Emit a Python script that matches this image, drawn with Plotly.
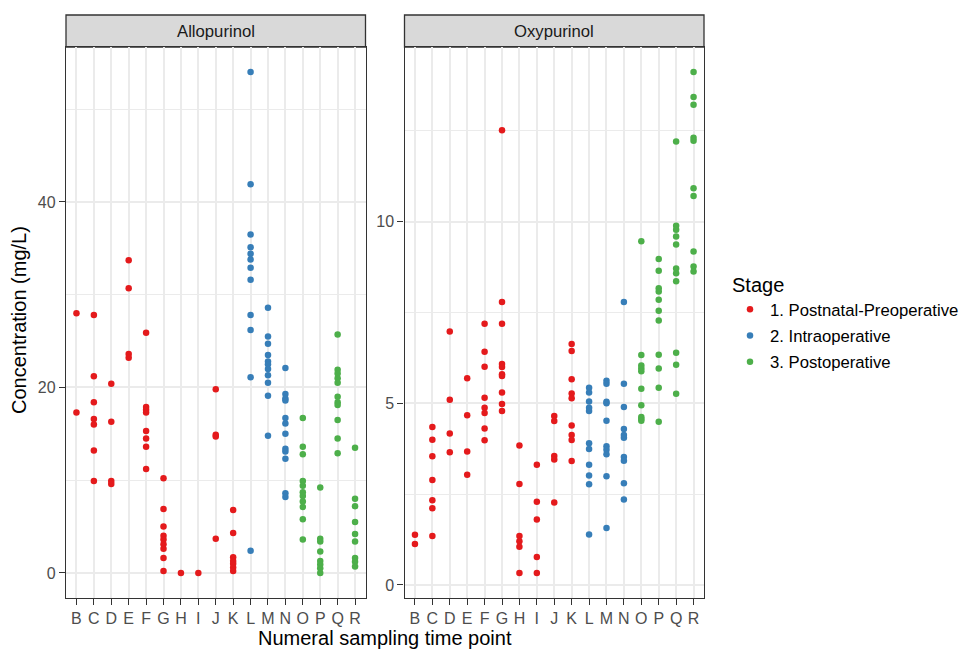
import plotly.graph_objects as go

categories = ["B", "C", "D", "E", "F", "G", "H", "I", "J", "K", "L", "M", "N", "O", "P", "Q", "R"]
stage_of_category = [1, 1, 1, 1, 1, 1, 1, 1, 1, 1, 2, 2, 2, 3, 3, 3, 3]
stage_names = ["1. Postnatal-Preoperative", "2. Intraoperative", "3. Postoperative"]
stage_colors = ["#E41A1C", "#377EB8", "#4DAF4A"]

allopurinol = [
    [28.0, 17.3],
    [27.8, 21.2, 18.4, 16.6, 16.0, 13.2, 9.9],
    [20.4, 16.3, 9.9, 9.6],
    [33.7, 30.7, 23.6, 23.2],
    [25.9, 17.9, 17.6, 17.3, 15.3, 14.5, 13.6, 11.2],
    [10.2, 6.9, 5.0, 4.0, 3.6, 3.1, 2.6, 1.6, 0.2],
    [0.0],
    [0.0],
    [19.8, 14.9, 14.7, 3.7],
    [6.8, 4.3, 1.7, 1.3, 1.0, 0.6, 0.2],
    [54.0, 41.9, 36.5, 35.1, 34.4, 33.8, 32.9, 31.6, 27.8, 26.2, 21.1, 2.4],
    [28.6, 25.5, 24.7, 23.5, 22.8, 22.5, 22.0, 21.3, 20.5, 19.1, 14.8],
    [22.1, 19.3, 18.8, 18.6, 16.7, 16.1, 15.0, 13.4, 13.1, 12.3, 8.6, 8.2],
    [16.7, 13.6, 12.8, 9.9, 9.4, 8.7, 8.3, 7.7, 7.1, 5.8, 3.6],
    [9.2, 3.7, 3.4, 2.3, 1.3, 0.9, 0.5, 0.0],
    [25.7, 21.9, 21.5, 21.0, 20.5, 19.0, 18.4, 18.1, 16.5, 14.5, 12.9],
    [13.5, 8.0, 7.2, 5.5, 4.2, 3.4, 1.6, 1.2, 0.7],
]

oxypurinol = [
    [1.38, 1.13],
    [4.35, 4.0, 3.54, 2.89, 2.33, 2.11, 1.35],
    [6.98, 5.10, 4.17, 3.65],
    [5.69, 4.67, 3.67, 3.03],
    [7.19, 6.42, 6.01, 5.15, 4.88, 4.73, 4.31, 3.98],
    [12.52, 7.79, 7.19, 6.08, 6.0, 5.8, 5.75, 5.30, 4.98, 4.79],
    [3.84, 2.78, 1.35, 1.2, 1.05, 0.33],
    [3.31, 2.29, 1.80, 0.77, 0.33],
    [4.65, 4.51, 3.55, 3.45, 2.27],
    [6.63, 6.44, 5.66, 5.27, 5.14, 4.39, 4.13, 3.99, 3.41],
    [5.43, 5.30, 5.05, 4.88, 4.79, 3.90, 3.74, 3.31, 3.01, 2.77, 1.39],
    [5.62, 5.54, 5.04, 5.0, 4.52, 3.82, 3.72, 3.60, 2.99, 1.57],
    [7.79, 5.54, 4.90, 4.29, 4.13, 4.05, 3.52, 3.42, 2.80, 2.35],
    [9.46, 6.33, 6.04, 5.96, 5.88, 5.40, 4.95, 4.62, 4.57, 4.52],
    [8.97, 8.65, 8.17, 8.08, 7.85, 7.55, 7.28, 6.34, 5.96, 5.43, 4.49],
    [12.21, 9.89, 9.78, 9.59, 9.37, 8.71, 8.58, 8.36, 6.39, 6.06, 5.26],
    [14.12, 13.43, 13.22, 12.31, 12.23, 10.92, 10.71, 9.18, 8.77, 8.63],
]

panel_titles = ["Allopurinol", "Oxypurinol"]
y_title = "Concentration (mg/L)"
x_title = "Numeral sampling time point"
legend_title = "Stage"

FONT = "Liberation Sans, Arial, sans-serif"
W, H = 967, 649

fig = go.Figure()

for p, (drug, xa, ya) in enumerate([(allopurinol, "x", "y"), (oxypurinol, "x2", "y2")]):
    for s in range(3):
        xs, ys = [], []
        for cat, st, vals in zip(categories, stage_of_category, drug):
            if st == s + 1:
                xs += [cat] * len(vals)
                ys += vals
        fig.add_trace(go.Scatter(
            x=xs, y=ys, mode="markers", xaxis=xa, yaxis=ya,
            name=stage_names[s], legendgroup=stage_names[s],
            showlegend=(p == 0),
            marker=dict(color=stage_colors[s], size=6.5, line=dict(width=0)),
        ))

def px_x(v):
    return v / W

def px_y(v):
    return (H - v) / H

left_dom = [px_x(66), px_x(365.5)]
right_dom = [px_x(404.5), px_x(704)]
y_dom = [px_y(598), px_y(47)]

common_x = dict(
    type="category", categoryorder="array", categoryarray=categories,
    tickmode="array", tickvals=categories, ticktext=categories,
    range=[-0.6, 16.6], showgrid=True, gridcolor="#EBEBEB", gridwidth=1.5,
    showline=True, linecolor="#333333", linewidth=1.3, mirror=True,
    ticks="outside", ticklen=6, tickcolor="#333333", tickwidth=1.3,
    tickfont=dict(family=FONT, size=16, color="#4D4D4D"), zeroline=False,
)
common_y = dict(
    showgrid=True, gridcolor="#EBEBEB", gridwidth=1.5,
    showline=True, linecolor="#333333", linewidth=1.3, mirror=True,
    ticks="outside", ticklen=6, tickcolor="#333333", tickwidth=1.3,
    tickfont=dict(family=FONT, size=16, color="#4D4D4D"), zeroline=False,
    domain=y_dom,
)

fig.update_layout(
    width=W, height=H, autosize=False,
    margin=dict(l=0, r=0, t=0, b=0),
    plot_bgcolor="white", paper_bgcolor="white",
    font=dict(family=FONT, color="black"),
    xaxis=dict(common_x, domain=left_dom, anchor="y"),
    xaxis2=dict(common_x, domain=right_dom, anchor="y2"),
    yaxis=dict(common_y, anchor="x", range=[-2.7, 56.7], tickvals=[0, 20, 40],
               minor=dict(tickvals=[10, 30, 50], showgrid=True, gridcolor="#EBEBEB", gridwidth=0.8, ticks="")),
    yaxis2=dict(common_y, anchor="x2", range=[-0.36, 14.81], tickvals=[0, 5, 10],
                minor=dict(tickvals=[2.5, 7.5, 12.5], showgrid=True, gridcolor="#EBEBEB", gridwidth=0.8, ticks="")),
    legend=dict(
        title=dict(text=legend_title, font=dict(family=FONT, size=20, color="black")),
        font=dict(family=FONT, size=16.7, color="black"),
        x=px_x(730), xanchor="left", y=px_y(266), yanchor="top",
        bgcolor="rgba(0,0,0,0)", itemsizing="trace", tracegroupgap=1.5,
    ),
    showlegend=True,
)

shapes = []
annotations = []
for dom, title in zip([left_dom, right_dom], panel_titles):
    shapes.append(dict(type="rect", xref="paper", yref="paper",
                       x0=dom[0], x1=dom[1], y0=px_y(47), y1=px_y(15),
                       fillcolor="#D9D9D9", line=dict(color="#333333", width=1.3), layer="below"))
    annotations.append(dict(text=title, xref="paper", yref="paper",
                            x=(dom[0] + dom[1]) / 2, y=px_y(31), showarrow=False,
                            xanchor="center", yanchor="middle",
                            font=dict(family=FONT, size=16.7, color="#1A1A1A")))

annotations.append(dict(text=x_title, xref="paper", yref="paper",
                        x=px_x(385), y=px_y(638), showarrow=False,
                        xanchor="center", yanchor="middle",
                        font=dict(family=FONT, size=20, color="black")))
annotations.append(dict(text=y_title, xref="paper", yref="paper",
                        x=px_x(19), y=px_y(320), showarrow=False, textangle=-90,
                        xanchor="center", yanchor="middle",
                        font=dict(family=FONT, size=20, color="black")))

fig.update_layout(shapes=shapes, annotations=annotations)

fig.write_html("out.html", config={"displayModeBar": False},
               post_script="document.body.style.margin='0';document.body.style.padding='0';")
